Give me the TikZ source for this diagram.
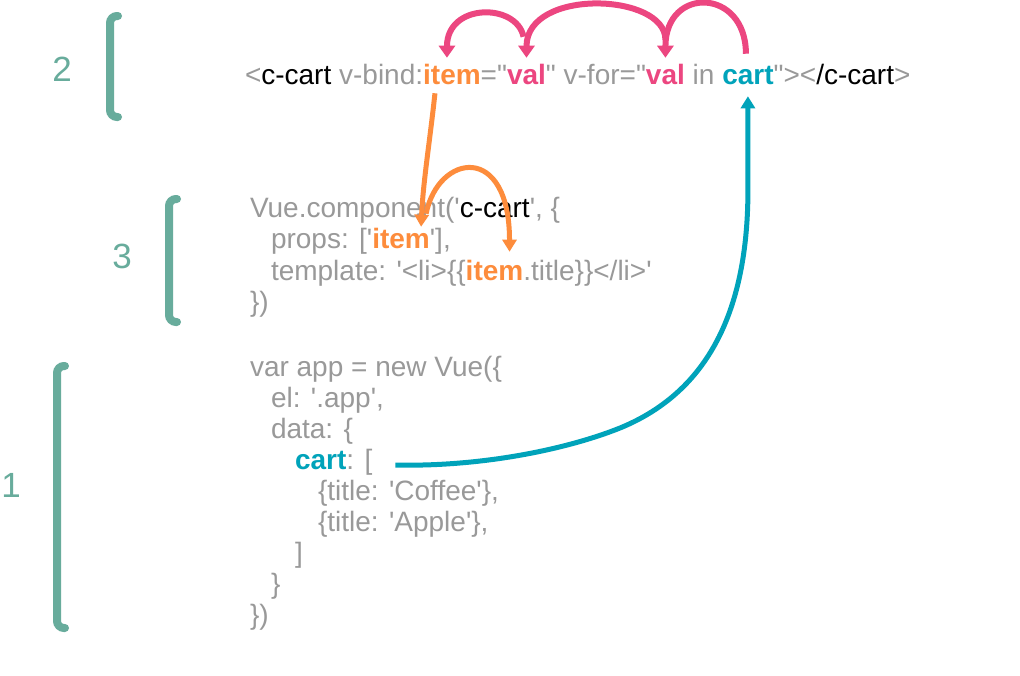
\documentclass[tikz,border=0pt]{standalone}
\usepackage{fontspec}
\setmainfont{Liberation Sans}[Ligatures=TeXOff]
\usetikzlibrary{arrows.meta}
\definecolor{codegray}{RGB}{153,153,153}
\definecolor{brteal}{RGB}{104,172,156}
\definecolor{vorange}{RGB}{253,140,60}
\definecolor{vpink}{RGB}{236,70,128}
\definecolor{vcyan}{RGB}{0,163,186}
\newcommand{\codefont}{\fontsize{28}{31}\selectfont}
\tikzset{
  code/.style={inner sep=0pt, outer sep=0pt, anchor=base west, font=\codefont, text=codegray},
  dark/.style={code, text=black},
  kwo/.style={code, text=vorange, font=\codefont\bfseries},
  kwp/.style={code, text=vpink, font=\codefont\bfseries},
  kwc/.style={code, text=vcyan, font=\codefont\bfseries},
  num/.style={text=brteal, font=\fontsize{35}{40}\selectfont, inner sep=0pt},
  brack/.style={draw=brteal, line width=8pt, line cap=round, rounded corners=7pt},
  pinkarr/.style={draw=vpink, line width=6pt, -{Triangle[length=12pt,width=16pt]}},
  orarr/.style={draw=vorange, line width=5pt, -{Triangle[length=12pt,width=14pt]}},
  cyarr/.style={draw=vcyan, line width=5pt, -{Triangle[length=12pt,width=14pt]}},
}
\begin{document}
\begin{tikzpicture}[x=1pt,y=-1pt]
\fill[white] (0,0) rectangle (1020,675);
\useasboundingbox (0,0) rectangle (1020,675);

% labels and brackets
\node[num] (n2) at (62,69) {2};
\node[num] (n3) at (122,256) {3};
\node[num] (n1) at (11,485) {1};
\draw[brack] (118,16) -- (110,16) -- (110,117) -- (118,117);
\draw[brack] (177,199) -- (169,199) -- (169,322) -- (177,322);
\draw[brack] (65,366) -- (57,366) -- (57,628) -- (65,628);

% top line
\node[code] (t0) at (245,84) {<};
\node[dark] (t1) at (t0.base east) {c-cart};
\node[code] (t2) at (t1.base east) {\ v-bind:};
\node[kwo] (item) at (t2.base east) {item};
\node[code] (t3) at (item.base east) {="};
\node[kwp] (val1) at (t3.base east) {val};
\node[code] (t4) at (val1.base east) {"\ v-for="};
\node[kwp] (val2) at (t4.base east) {val};
\node[code] (t5) at (val2.base east) {\ in\ \null};
\node[kwc] (cartT) at (t5.base east) {cart};
\node[code] (t6) at (cartT.base east) {"><};
\node[dark] (t7) at (t6.base east) {/c-cart};
\node[code] (t8) at (t7.base east) {>};

% component block
\node[code] (v0) at (250,217) {Vue.component('};
\node[dark] (v1) at (v0.base east) {c-cart};
\node[code] (v2) at (v1.base east) {', \{};
\node[code] (p0) at (271,248) {props: ['};
\node[kwo] (pitem) at (p0.base east) {item};
\node[code] (p1) at (pitem.base east) {'],};
\node[code] (m0) at (271,280) {template: '<li>\{\{};
\node[kwo] (titem) at (m0.base east) {item};
\node[code] (m1) at (titem.base east) {.title\}\}</li>'};
\node[code] (v3) at (250,311) {\})};

% app block
\node[code] (a0) at (250,376) {var app = new Vue(\{};
\node[code] (a1) at (271,407) {el: '.app',};
\node[code] (a2) at (271,438) {data: \{};
\node[kwc] (cartC) at (295,469) {cart};
\node[code] (crest) at (cartC.base east) {: [};
\node[code] (a4) at (318,500) {\{title: 'Coffee'\},};
\node[code] (a5) at (318,531) {\{title: 'Apple'\},};
\node[code] (a6) at (295,562) {]};
\node[code] (a7) at (271,593) {\}};
\node[code] (a8) at (250,624) {\})};

% pink arrows
\draw[pinkarr] ([shift={(-2,-12)}]cartT.north) .. controls +(0,-66) and +(0,-72) .. ([shift={(0,-6)}]val2.north);
\draw[pinkarr] ([shift={(0,-24)}]val2.north) .. controls +(0,-47) and +(0,-70) .. ([shift={(0,-6)}]val1.north);
\draw[pinkarr] ([shift={(-3,-27)}]val1.north) .. controls +(-7,-34) and +(0,-55) .. ([shift={(-5,-6)}]item.north);

% orange arrows
\draw[orarr] ([shift={(-17,9)}]item.south) .. controls +(-5,47) and +(2,-45) .. ([shift={(20,-1)}]pitem.north);
\draw[orarr] ([shift={(25,-14)}]pitem.north) .. controls +(12,-60) and +(0,-110) .. ([shift={(15,-8)}]titem.north);

% cyan arrow
\coordinate (ctip) at ([shift={(0,12)}]cartT.south);
\coordinate (cbend) at (ctip |- 0,190);
\draw[cyarr] ([shift={(23,-4)}]crest.base east) .. controls +(84,2) and +(-55,22) .. (620,428)
  .. controls +(78,-32) and +(0,135) .. (cbend) -- (ctip);
\end{tikzpicture}
\end{document}
